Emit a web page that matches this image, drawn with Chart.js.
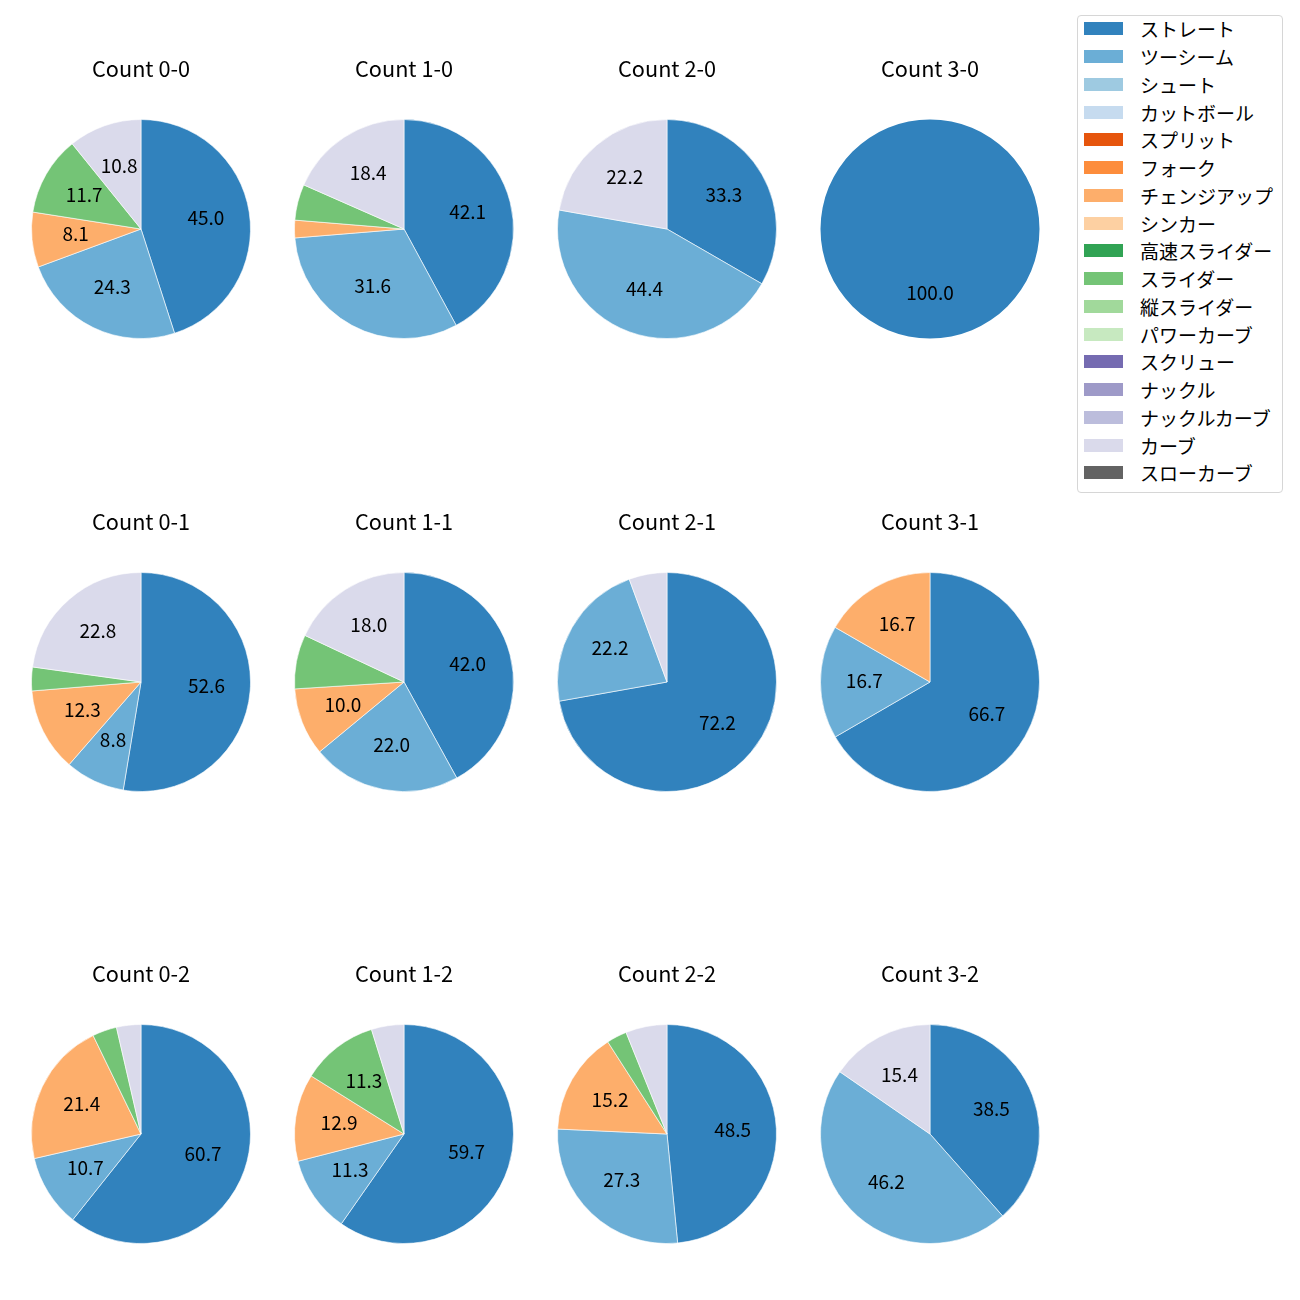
<!DOCTYPE html>
<html>
<head>
<meta charset="utf-8">
<script src="https://cdn.jsdelivr.net/npm/chart.js@4.4.1/dist/chart.umd.min.js"></script>
<style>
  html, body { margin: 0; padding: 0; background: #fff; }
  body { width: 1300px; height: 1300px; position: relative; overflow: hidden; font-family: "Noto Sans CJK JP", "Noto Sans", sans-serif; }
  canvas.pie { position: absolute; }
  #legend { position: absolute; left: 1077px; top: 15px; width: 204px; border: 1px solid #d6d6d6; border-radius: 4px; padding: 0 0 4px 0; background: #fff; }
  .row { height: 27.75px; display: flex; align-items: center; position: relative; top: -1px; }
  .sw { width: 39px; height: 13px; margin-left: 6px; flex: none; }
  .tx { margin-left: 17px; font-size: 19px; line-height: 1; color: #000; white-space: nowrap; }
</style>
</head>
<body>
<div id="legend"></div>
<script>
// ---- data ----
const pitchTypes = ["ストレート","ツーシーム","シュート","カットボール","スプリット","フォーク","チェンジアップ","シンカー","高速スライダー","スライダー","縦スライダー","パワーカーブ","スクリュー","ナックル","ナックルカーブ","カーブ","スローカーブ"];
const pitchColors = ["#3182bd","#6baed6","#9ecae1","#c6dbef","#e6550d","#fd8d3c","#fdae6b","#fdd0a2","#31a354","#74c476","#a1d99b","#c7e9c0","#756bb1","#9e9ac8","#bcbddc","#dadaeb","#636363"];
const countTitles = ["Count 0-0","Count 1-0","Count 2-0","Count 3-0","Count 0-1","Count 1-1","Count 2-1","Count 3-1","Count 0-2","Count 1-2","Count 2-2","Count 3-2"];
//                 ST    2S    SH CT SP FO  CH    SI HSL SL   VSL PC SC KN KC CU    SC
const count00 = [45.0, 24.3, 0, 0, 0, 0, 8.1,  0, 0, 11.7, 0, 0, 0, 0, 0, 10.8, 0];
const count10 = [42.1, 31.6, 0, 0, 0, 0, 2.6,  0, 0, 5.3,  0, 0, 0, 0, 0, 18.4, 0];
const count20 = [33.3, 44.4, 0, 0, 0, 0, 0,    0, 0, 0,    0, 0, 0, 0, 0, 22.2, 0];
const count30 = [100.0, 0,   0, 0, 0, 0, 0,    0, 0, 0,    0, 0, 0, 0, 0, 0,    0];
const count01 = [52.6, 8.8,  0, 0, 0, 0, 12.3, 0, 0, 3.5,  0, 0, 0, 0, 0, 22.8, 0];
const count11 = [42.0, 22.0, 0, 0, 0, 0, 10.0, 0, 0, 8.0,  0, 0, 0, 0, 0, 18.0, 0];
const count21 = [72.2, 22.2, 0, 0, 0, 0, 0,    0, 0, 0,    0, 0, 0, 0, 0, 5.6,  0];
const count31 = [66.7, 16.7, 0, 0, 0, 0, 16.7, 0, 0, 0,    0, 0, 0, 0, 0, 0,    0];
const count02 = [60.7, 10.7, 0, 0, 0, 0, 21.4, 0, 0, 3.6,  0, 0, 0, 0, 0, 3.6,  0];
const count12 = [59.7, 11.3, 0, 0, 0, 0, 12.9, 0, 0, 11.3, 0, 0, 0, 0, 0, 4.8,  0];
const count22 = [48.5, 27.3, 0, 0, 0, 0, 15.2, 0, 0, 3.0,  0, 0, 0, 0, 0, 6.1,  0];
const count32 = [38.5, 46.2, 0, 0, 0, 0, 0,    0, 0, 0,    0, 0, 0, 0, 0, 15.4, 0];
const countValues = [count00,count10,count20,count30,count01,count11,count21,count31,count02,count12,count22,count32];
const labelThreshold = 8.05;

// ---- layout ----
const colCenters = [141, 404, 667, 930];
const rowCenters = [229, 682, 1134];
const pieRadius = 109.5;
const canvasW = 260, canvasH = 300;
const FONT = '"Noto Sans CJK JP", "Noto Sans", sans-serif';

const pctLabels = {
  id: 'pctLabels',
  afterDatasetsDraw(chart) {
    const ctx = chart.ctx;
    const ds = chart.data.datasets[0];
    const meta = chart.getDatasetMeta(0);
    ctx.save();
    ctx.font = '19px ' + FONT;
    ctx.fillStyle = '#000';
    ctx.textAlign = 'center';
    ctx.textBaseline = 'middle';
    meta.data.forEach((arc, i) => {
      const v = ds.data[i];
      if (!(v >= labelThreshold)) return;
      const p = arc.getProps(['x','y','startAngle','endAngle','outerRadius'], true);
      const a = (p.startAngle + p.endAngle) / 2;
      const r = p.outerRadius * 0.6;
      ctx.fillText(v.toFixed(1), p.x + Math.cos(a) * r, p.y + Math.sin(a) * r - 1.5);
    });
    ctx.restore();
  }
};

countValues.forEach((vals, k) => {
  const col = k % 4, row = Math.floor(k / 4);
  const cv = document.createElement('canvas');
  cv.className = 'pie';
  cv.width = canvasW; cv.height = canvasH;
  cv.style.width = canvasW + 'px'; cv.style.height = canvasH + 'px';
  cv.style.left = (colCenters[col] - canvasW / 2) + 'px';
  cv.style.top = (rowCenters[row] - 179) + 'px';
  document.body.appendChild(cv);
  new Chart(cv, {
    type: 'pie',
    data: {
      labels: pitchTypes,
      datasets: [{
        data: vals,
        backgroundColor: pitchColors,
        borderColor: '#ffffff',
        borderWidth: vals.map(v => (v > 0 && v < 100) ? 0.6 : 0),
        radius: pieRadius
      }]
    },
    options: {
      responsive: false,
      animation: false,
      events: [],
      layout: { padding: 0 },
      plugins: {
        legend: { display: false },
        tooltip: { enabled: false },
        title: {
          display: true,
          text: countTitles[k],
          color: '#000',
          font: { family: FONT, size: 21.7, weight: 'normal', lineHeight: 1.2 },
          padding: { top: 6, bottom: 26 }
        }
      }
    },
    plugins: [pctLabels]
  });
});

// ---- legend ----
const leg = document.getElementById('legend');
pitchTypes.forEach((name, i) => {
  const r = document.createElement('div'); r.className = 'row';
  const s = document.createElement('div'); s.className = 'sw'; s.style.background = pitchColors[i];
  const t = document.createElement('span'); t.className = 'tx'; t.textContent = name;
  r.appendChild(s); r.appendChild(t); leg.appendChild(r);
});
</script>
</body>
</html>
